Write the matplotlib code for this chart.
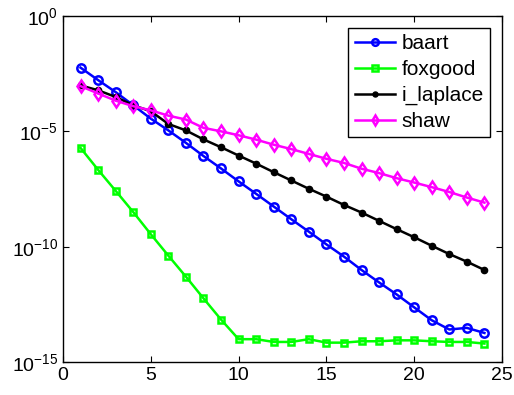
import numpy as np
import matplotlib
matplotlib.use("Agg")
from matplotlib import pyplot as plt

plt.rcParams['font.family'] = ['Liberation Sans', 'DejaVu Sans']

x = list(range(1, 25))

# log10 of the values
baart_log = [-2.24, -2.78, -3.30, -3.87, -4.45, -4.96, -5.50, -6.07, -6.61, -7.17,
             -7.71, -8.26, -8.81, -9.35, -9.90, -10.43, -11.01, -11.55, -12.07, -12.63,
             -13.19, -13.59, -13.52, -13.74]
foxgood_log = [-5.72, -6.67, -7.58, -8.50, -9.46, -10.39, -11.30, -12.24, -13.16, -14.01,
               -14.01, -14.13, -14.13, -14.01, -14.16, -14.16, -14.10, -14.10, -14.06, -14.06,
               -14.10, -14.13, -14.13, -14.20]
laplace_log = [-3.01, -3.22, -3.51, -3.87, -4.13, -4.68, -4.96, -5.35, -5.69, -6.05,
               -6.40, -6.77, -7.13, -7.49, -7.83, -8.19, -8.52, -8.88, -9.24, -9.59,
               -9.96, -10.32, -10.65, -11.01]
shaw_log = [-3.04, -3.36, -3.67, -3.91, -4.09, -4.32, -4.49, -4.85, -5.00, -5.17,
            -5.36, -5.58, -5.77, -5.98, -6.19, -6.37, -6.62, -6.81, -7.03, -7.22,
            -7.42, -7.63, -7.87, -8.09]

fig = plt.figure(figsize=(5.14, 3.95), dpi=100)
ax = fig.add_axes([0.1226, 0.0835, 0.854, 0.876])

ax.semilogy(x, 10.0 ** np.array(baart_log), '-o', color='#0000ff', lw=1.8,
            mfc='none', mec='#0000ff', mew=1.8, ms=6, label='baart')
ax.semilogy(x, 10.0 ** np.array(foxgood_log), '-s', color='#00ff00', lw=1.8,
            mfc='none', mec='#00ff00', mew=1.8, ms=5, label='foxgood')
ax.semilogy(x, 10.0 ** np.array(laplace_log), '-o', color='black', lw=1.8,
            mfc='black', mec='black', ms=4.5, label='i_laplace')
ax.semilogy(x, 10.0 ** np.array(shaw_log), '-d', color='#ff00ff', lw=1.8,
            mfc='none', mec='#ff00ff', mew=1.8, ms=6.5, label='shaw')

ax.set_xlim(0, 25)
ax.set_ylim(1e-15, 1e0)
ax.set_xticks([0, 5, 10, 15, 20, 25])
ax.set_yticks([1e-15, 1e-10, 1e-5, 1e0])
ax.minorticks_off()
ax.tick_params(direction='in', top=True, right=True, labelsize=14, length=4)
for s in ax.spines.values():
    s.set_linewidth(1)

leg = ax.legend(loc='upper right', fontsize=15, fancybox=False, framealpha=1,
                edgecolor='black', borderpad=0.3, labelspacing=0.33,
                handlelength=1.95, handletextpad=0.3, borderaxespad=0.58,
                markerscale=0.8)
leg.get_frame().set_linewidth(1)

fig.savefig('out.png', dpi=100)
